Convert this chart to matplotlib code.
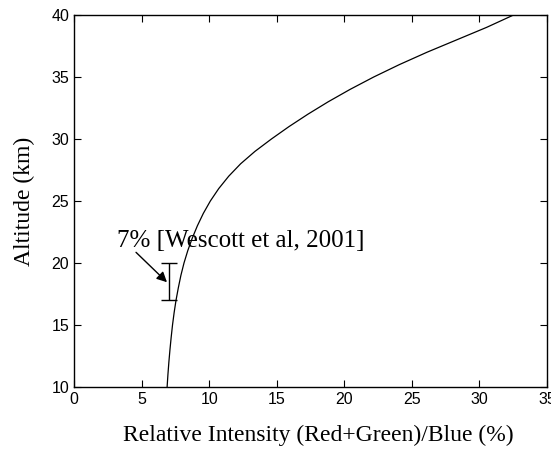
import matplotlib
matplotlib.use("Agg")
import numpy as np
from matplotlib import pyplot as plt

# curve, every 1 km
altitude = [10, 11, 12, 13, 14, 15, 16, 17, 18, 19, 20,
            21, 22, 23, 24, 25, 26, 27, 28, 29, 30,
            31, 32, 33, 34, 35, 36, 37, 38, 39, 40]
ratio = [6.89, 6.95, 7.02, 7.10, 7.19, 7.29, 7.41, 7.55, 7.72, 7.91, 8.14,
         8.42, 8.75, 9.13, 9.57, 10.09, 10.71, 11.45, 12.33, 13.39, 14.61,
         15.91, 17.31, 18.81, 20.43, 22.18, 24.08, 26.13, 28.33, 30.53, 32.53]

# Wescott et al. measurement
obs_x = [7.0]
obs_alt = [18.5]
obs_err = [1.5]

serif = ['Liberation Serif', 'DejaVu Serif']
sans = ['Liberation Sans', 'DejaVu Sans']

fig = plt.figure(figsize=(5.51, 4.5), dpi=100)
ax = fig.add_axes([0.1343, 0.14, 0.8584, 0.8267])

ax.plot(ratio, altitude, color='black', lw=0.9)
ax.errorbar(obs_x, obs_alt, yerr=obs_err, fmt='none', ecolor='black',
            elinewidth=1.0, capsize=6, capthick=1.0)

ax.text(3.18, 21.3, '7% [Wescott et al, 2001]', fontsize=18, family=serif,
        ha='left', va='baseline')
ax.annotate('', xy=(6.88, 18.45), xytext=(4.59, 20.86),
            arrowprops=dict(arrowstyle='-|>', color='black', lw=1.0,
                            mutation_scale=15, shrinkA=0, shrinkB=0))

ax.set_xlim(0, 35)
ax.set_ylim(10, 40)
ax.set_xticks(np.arange(0, 36, 5))
ax.set_yticks(np.arange(10, 41, 5))
ax.tick_params(direction='in', top=True, right=True, length=5, width=0.8,
               labelsize=11.5)
for lbl in ax.get_xticklabels() + ax.get_yticklabels():
    lbl.set_family(sans)
for s in ax.spines.values():
    s.set_linewidth(1.0)

ax.set_xlabel('Relative Intensity (Red+Green)/Blue (%)', fontsize=17,
              family=serif)
ax.set_ylabel('Altitude (km)', fontsize=17, family=serif)
ax.xaxis.set_label_coords(0.517, -0.102)
ax.yaxis.set_label_coords(-0.105, 0.5)
ax.yaxis.label.set_va('center')

fig.savefig('out.png', dpi=100)
